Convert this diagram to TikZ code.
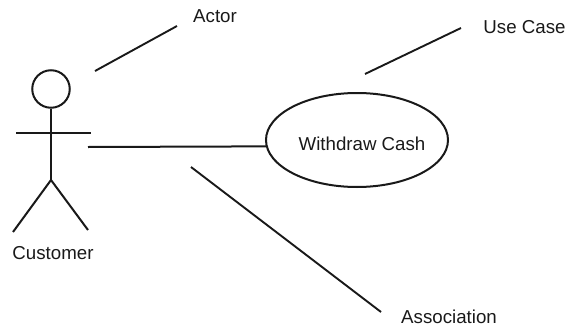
\documentclass[tikz,border=0pt]{standalone}
\usepackage{fontspec}
\setmainfont{Liberation Sans}
\usetikzlibrary{shapes.geometric}
\definecolor{ink}{gray}{0.1}
\begin{document}
\begin{tikzpicture}[x=1pt,y=-1pt,
 ln/.style={line width=2pt,draw=ink},
 thin ln/.style={line width=1.9pt,draw=ink},
 lbl/.style={font=\fontsize{18.7}{20}\selectfont,inner sep=0pt,text=ink}]
\useasboundingbox (0,0) rectangle (566,327);
\node[ln,draw,circle,minimum size=37.5pt,inner sep=0pt] (head) at (51,89) {};
\coordinate (hip) at (51,180);
\coordinate (armL) at (16,133);
\coordinate (armR) at (91,133);
\coordinate (footL) at (13,232);
\coordinate (footR) at (88,230);
\draw[ln] (head.south) -- (hip);
\draw[ln] (armL) -- (armR);
\draw[ln] (footL) -- (hip) -- (footR);
\node[lbl] (customer) at (53,253) {Customer};
\node[ln,draw,ellipse,minimum width=182pt,minimum height=94pt,inner sep=0pt] (uc) at (357,140) {};
\node[lbl] (uctext) at (362,144) {Withdraw Cash};
\coordinate (assocStart) at (88,147);
\draw[ln] (assocStart) -- (uc.184.4);
\node[lbl] (actor) at (215,16) {Actor};
\node[lbl] (usecase) at (524.5,27) {Use Case};
\node[lbl] (association) at (449,317) {Association};
\coordinate (a1) at (95,71);
\coordinate (a2) at (177,26);
\draw[thin ln] (a1) -- (a2);
\coordinate (u1) at (365,74);
\coordinate (u2) at (461,28);
\draw[thin ln] (u1) -- (u2);
\coordinate (s1) at (191,167);
\coordinate (s2) at (381,312);
\draw[thin ln] (s1) -- (s2);
\end{tikzpicture}
\end{document}
